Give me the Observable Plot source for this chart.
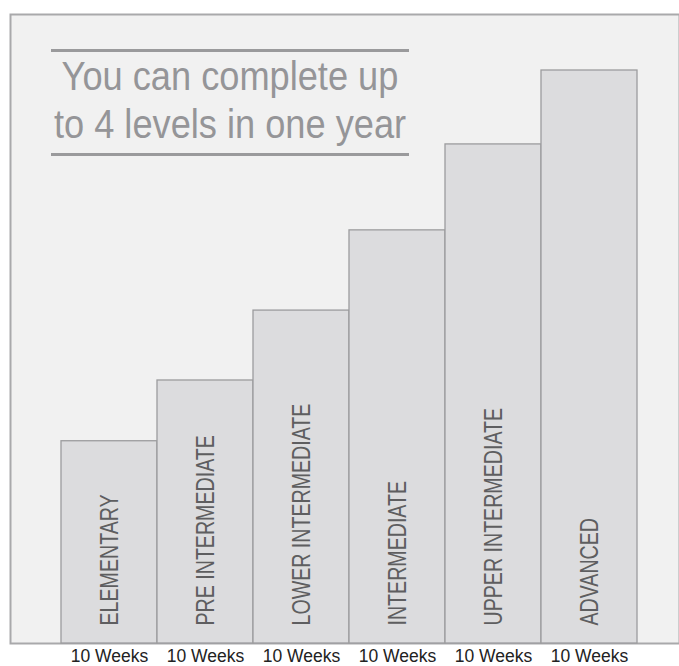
<!DOCTYPE html>
<html>
<head>
<meta charset="utf-8">
<script src="https://cdn.jsdelivr.net/npm/d3@7"></script>
<script src="https://cdn.jsdelivr.net/npm/@observablehq/plot@0.6"></script>
<style>
  html, body { margin: 0; padding: 0; background: #ffffff; }
  #wrap { position: relative; width: 679px; height: 666px; overflow: hidden; }
  #title {
    position: absolute; left: 51px; top: 49px; width: 358px;
    border-top: 3px solid #9a9a9c; border-bottom: 3px solid #9a9a9c;
    box-sizing: border-box; height: 107px;
  }
  #title .inner {
    width: 440px; margin-left: -41px;
    font-family: "Liberation Sans", Arial, sans-serif;
    font-size: 40px; line-height: 48px; color: #959598;
    text-align: center; white-space: nowrap;
    transform: scaleX(0.905); transform-origin: 50% 0;
  }
</style>
</head>
<body>
<div id="wrap"></div>
<script>
const levels = ["ELEMENTARY", "PRE INTERMEDIATE", "LOWER INTERMEDIATE", "INTERMEDIATE", "UPPER INTERMEDIATE", "ADVANCED"];
const heights = [35.3, 45.9, 58.1, 72.1, 87.1, 100];
const durations = ["10 Weeks", "10 Weeks", "10 Weeks", "10 Weeks", "10 Weeks", "10 Weeks"];
const titleLines = ["You can complete up", "to 4 levels in one year"];

const data = levels.map((level, i) => ({level, value: heights[i], duration: durations[i]}));
const durationOf = new Map(data.map(d => [d.level, d.duration]));

const chart = Plot.plot({
  width: 679,
  height: 666,
  marginLeft: 10,
  marginTop: 14,
  marginRight: 0,
  marginBottom: 23,
  style: {fontFamily: "'Liberation Sans', Arial, sans-serif", background: "#ffffff"},
  x: {domain: levels, range: [59, 638], padding: 0, label: null},
  y: {domain: [0, 100], range: [643, 70], axis: null},
  marks: [
    Plot.frame({fill: "#f1f1f1", stroke: "#a9a9ab", strokeWidth: 2}),
    Plot.barY(data, {x: "level", y: "value", fill: "#dcdcde", stroke: "#9c9c9e", strokeWidth: 1.3}),
    Plot.text(data, {
      x: "level", text: "level", frameAnchor: "bottom", rotate: -90,
      textAnchor: "start", lineAnchor: "middle", dy: -18,
      fontSize: 26, fill: "#5e5e60", fontFamily: "'Liberation Sans', Arial, sans-serif",
      className: "level-label"
    }),
    Plot.axisX({
      tickSize: 0, tickPadding: 6, fontSize: 17.5, fill: "#222",
      tickFormat: d => durationOf.get(d), label: null
    })
  ]
});

// condense the rotated level labels along their reading direction
d3.select(chart).selectAll(".level-label text").each(function () {
  const t = this.getAttribute("transform") || "";
  this.setAttribute("transform", t + " scale(0.755,1)");
});

const wrap = document.getElementById("wrap");
wrap.appendChild(chart);
const title = document.createElement("div");
title.id = "title";
const inner = document.createElement("div");
inner.className = "inner";
inner.innerHTML = titleLines.join("<br>");
title.appendChild(inner);
wrap.appendChild(title);
</script>
</body>
</html>
